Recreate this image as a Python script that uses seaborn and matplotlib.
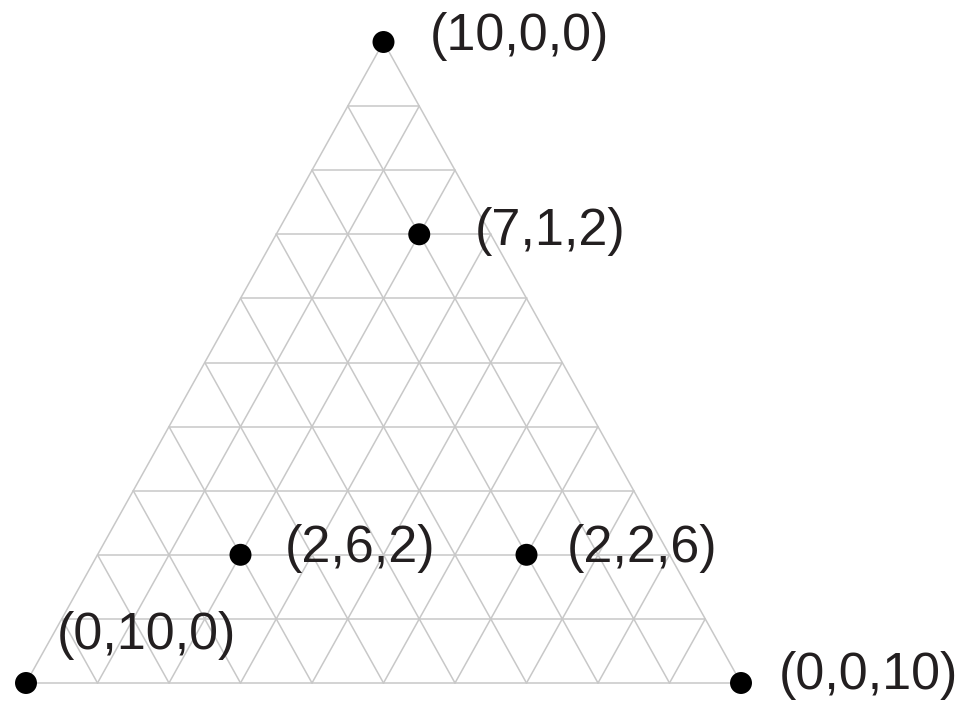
import numpy as np
import pandas as pd
import seaborn as sns
import matplotlib.pyplot as plt

# barycentric points (a = top, b = left, c = right), total 10
a_vals = [10, 7, 2, 2, 0, 0]
b_vals = [0, 1, 6, 2, 10, 0]
c_vals = [0, 2, 2, 6, 0, 10]
labels = ["(10,0,0)", "(7,1,2)", "(2,6,2)", "(2,2,6)", "(0,10,0)", "(0,0,10)"]
# label offsets in pixels from the dot
label_dx = [46, 55, 44, 40, 31, 38]
label_dy = [6, 3, 6, 6, 47, 7]

N = 10
TOP = np.array([0.5, 1.0])
LEFT = np.array([0.0, 0.0])
RIGHT = np.array([1.0, 0.0])


def to_xy(a, b, c):
    a, b, c = np.asarray(a, float), np.asarray(b, float), np.asarray(c, float)
    s = a + b + c
    x = (a * TOP[0] + b * LEFT[0] + c * RIGHT[0]) / s
    y = (a * TOP[1] + b * LEFT[1] + c * RIGHT[1]) / s
    return x, y


sns.set_style("white")
plt.rcParams['font.family'] = ['Liberation Sans', 'DejaVu Sans']

fig = plt.figure(figsize=(9.64, 7.01), dpi=100)
ax = fig.add_axes([26 / 964, 1 - 683 / 701, 715 / 964, 641 / 701])
ax.set_xlim(0, 1)
ax.set_ylim(0, 1)
ax.axis("off")

grid_col = "#c8c8c8"
# grid lines: constant a, constant b, constant c
for k in range(0, N + 1):
    # a = k
    x, y = to_xy([k, k], [N - k, 0], [0, N - k])
    ax.plot(x, y, color=grid_col, lw=1.1, zorder=1, clip_on=False)
    # b = k
    x, y = to_xy([N - k, 0], [k, k], [0, N - k])
    ax.plot(x, y, color=grid_col, lw=1.1, zorder=1, clip_on=False)
    # c = k
    x, y = to_xy([N - k, 0], [0, N - k], [k, k])
    ax.plot(x, y, color=grid_col, lw=1.1, zorder=1, clip_on=False)

px, py = to_xy(a_vals, b_vals, c_vals)
df = pd.DataFrame({"x": px, "y": py, "label": labels})
sns.scatterplot(data=df, x="x", y="y", ax=ax, s=250, color="black",
                edgecolor="none", zorder=3, clip_on=False, legend=False)

for i, row in df.iterrows():
    ax.annotate(row["label"], (row["x"], row["y"]),
                xytext=(label_dx[i], label_dy[i]), textcoords="offset pixels",
                ha="left", va="center", fontsize=37.5, color="#231f20",
                annotation_clip=False)

fig.savefig("out.png", dpi=100)
